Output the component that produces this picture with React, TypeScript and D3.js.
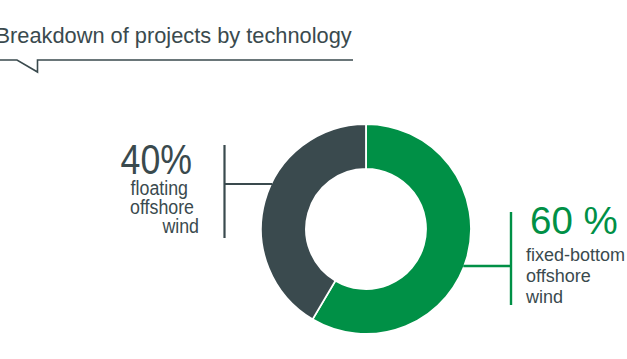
import React from "react";
import * as d3 from "d3";

const segments = ["fixed-bottom offshore wind", "floating offshore wind"];
const sliceValues = [58.5, 41.5];
const percentLabels = ["60 %", "40%"];
const rightLines = ["fixed-bottom", "offshore", "wind"];
const leftLines = ["floating", "offshore", "wind"];
const title = "Breakdown of projects by technology";

const GREEN = "#009046";
const DARK = "#3a4a4e";
const FONT = "'Liberation Sans', Arial, sans-serif";

export default function App() {
  const W = 627;
  const H = 359;
  const cx = 366;
  const cy = 229;
  const rOuter = 105;
  const rInner = 60;

  const pie = d3
    .pie<number>()
    .sort(null)
    .startAngle(0)
    .endAngle(2 * Math.PI)
    .value((d) => d);
  const arcs = pie(sliceValues);
  const arc = d3.arc<d3.PieArcDatum<number>>().innerRadius(rInner).outerRadius(rOuter);
  const colors = d3.scaleOrdinal<string, string>().domain(segments).range([GREEN, DARK]);

  // x where a horizontal line at y meets the outer edge of the ring
  const edgeX = (y: number, side: number) =>
    cx + side * Math.sqrt(rOuter * rOuter - (y - cy) * (y - cy));

  const leftY = 184;
  const rightY = 266;
  const leftEnds = [188, 194, 199];
  const leftBase = [194.5, 213.5, 232.5];
  const rightBase = [261, 282, 303];

  const titleLine = d3.line()([
    [0, 60],
    [17, 60],
    [37.5, 72],
    [37.5, 60],
    [353, 60],
  ]);

  return (
    <svg
      width={W}
      height={H}
      style={{ position: "absolute", left: 0, top: 0, background: "#fff" }}
      fontFamily={FONT}
    >
      <text x={-4.5} y={43} fontSize={21.8} fill={DARK}>
        {title}
      </text>
      <path d={titleLine ?? ""} fill="none" stroke={DARK} strokeWidth={1.6} />

      <g transform={`translate(${cx},${cy})`}>
        {arcs.map((a, i) => (
          <path
            key={i}
            d={arc(a) ?? ""}
            fill={colors(segments[i])}
            stroke="#fff"
            strokeWidth={1.8}
          />
        ))}
      </g>

      {/* left bracket */}
      <line x1={224.5} y1={145} x2={224.5} y2={238} stroke={DARK} strokeWidth={2.2} />
      <line x1={224.5} y1={leftY} x2={edgeX(leftY, -1) + 1} y2={leftY} stroke={DARK} strokeWidth={2.2} />

      {/* right bracket */}
      <line x1={511} y1={212} x2={511} y2={305} stroke={GREEN} strokeWidth={2.4} />
      <line x1={edgeX(rightY, 1) - 1} y1={rightY} x2={511} y2={rightY} stroke={GREEN} strokeWidth={2.4} />

      {/* left labels */}
      <g transform={`translate(192,174) scale(0.83,1)`}>
        <text x={0} y={0} textAnchor="end" fontSize={43} fill={DARK}>
          {percentLabels[1]}
        </text>
      </g>
      {leftLines.map((t, i) => (
        <g key={t} transform={`translate(${leftEnds[i]},${leftBase[i]}) scale(0.89,1)`}>
          <text x={0} y={0} textAnchor="end" fontSize={20} fill={DARK}>
            {t}
          </text>
        </g>
      ))}

      {/* right labels */}
      <text x={530} y={234} fontSize={38.5} fill={GREEN}>
        {percentLabels[0]}
      </text>
      {rightLines.map((t, i) => (
        <text key={t} x={526} y={rightBase[i]} fontSize={18} fill={DARK}>
          {t}
        </text>
      ))}
    </svg>
  );
}
